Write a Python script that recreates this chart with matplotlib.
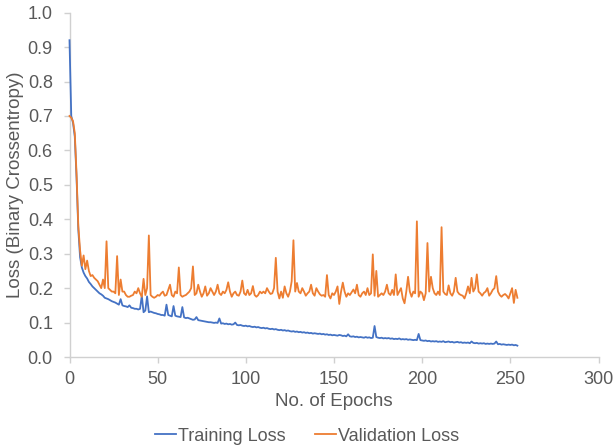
import matplotlib
matplotlib.use("Agg")
import matplotlib.pyplot as plt
import numpy as np

# Per-epoch loss values (epochs 0..254)
training_loss = [
    0.92, 0.70, 0.68, 0.64, 0.52, 0.37, 0.29, 0.26, 0.245, 0.235,
    0.228, 0.218, 0.212, 0.205, 0.200, 0.195, 0.190, 0.185, 0.182, 0.178,
    0.172, 0.170, 0.168, 0.165, 0.162, 0.160, 0.158, 0.155, 0.152, 0.168,
    0.150, 0.148, 0.147, 0.145, 0.150, 0.143, 0.142, 0.140, 0.140, 0.138,
    0.140, 0.178, 0.130, 0.135, 0.176, 0.130, 0.132, 0.130, 0.128, 0.127,
    0.125, 0.124, 0.122, 0.122, 0.120, 0.152, 0.122, 0.120, 0.118, 0.148,
    0.120, 0.118, 0.117, 0.116, 0.145, 0.115, 0.113, 0.114, 0.112, 0.110,
    0.108, 0.109, 0.116, 0.107, 0.106, 0.105, 0.104, 0.103, 0.102, 0.101,
    0.101, 0.100, 0.099, 0.100, 0.099, 0.112, 0.097, 0.098, 0.096, 0.097,
    0.095, 0.096, 0.094, 0.095, 0.100, 0.093, 0.092, 0.093, 0.091, 0.090,
    0.091, 0.089, 0.090, 0.088, 0.087, 0.088, 0.086, 0.087, 0.085, 0.084,
    0.085, 0.083, 0.084, 0.082, 0.081, 0.082, 0.080, 0.081, 0.079, 0.078,
    0.079, 0.077, 0.078, 0.076, 0.077, 0.075, 0.074, 0.075, 0.073, 0.074,
    0.072, 0.073, 0.071, 0.072, 0.070, 0.071, 0.069, 0.070, 0.068, 0.069,
    0.068, 0.067, 0.068, 0.066, 0.067, 0.065, 0.066, 0.064, 0.065, 0.063,
    0.064, 0.063, 0.062, 0.064, 0.063, 0.061, 0.062, 0.060, 0.066, 0.060,
    0.059, 0.060, 0.058, 0.059, 0.057, 0.058, 0.057, 0.056, 0.058, 0.056,
    0.057, 0.055, 0.056, 0.090, 0.058, 0.056, 0.055, 0.056, 0.054, 0.055,
    0.054, 0.055, 0.053, 0.054, 0.052, 0.053, 0.052, 0.054, 0.051, 0.052,
    0.051, 0.052, 0.050, 0.051, 0.050, 0.049, 0.050, 0.049, 0.067, 0.049,
    0.048, 0.047, 0.048, 0.046, 0.047, 0.045, 0.046, 0.045, 0.046, 0.044,
    0.045, 0.044, 0.046, 0.043, 0.044, 0.045, 0.043, 0.044, 0.042, 0.043,
    0.044, 0.042, 0.043, 0.041, 0.042, 0.041, 0.042, 0.040, 0.045, 0.041,
    0.040, 0.041, 0.039, 0.040, 0.039, 0.040, 0.038, 0.039, 0.038, 0.039,
    0.038, 0.039, 0.045, 0.037, 0.038, 0.036, 0.037, 0.036, 0.035, 0.036,
    0.035, 0.036, 0.034, 0.035, 0.033,
]

validation_loss = [
    0.700, 0.695, 0.685, 0.650, 0.530, 0.380, 0.310, 0.265, 0.295, 0.255,
    0.280, 0.250, 0.235, 0.238, 0.230, 0.225, 0.220, 0.210, 0.200, 0.225,
    0.200, 0.336, 0.200, 0.195, 0.190, 0.190, 0.185, 0.293, 0.180, 0.225,
    0.190, 0.190, 0.180, 0.175, 0.175, 0.178, 0.180, 0.190, 0.185, 0.200,
    0.185, 0.175, 0.227, 0.180, 0.200, 0.353, 0.180, 0.175, 0.172, 0.175,
    0.180, 0.178, 0.185, 0.190, 0.178, 0.180, 0.195, 0.210, 0.180, 0.175,
    0.190, 0.185, 0.260, 0.180, 0.175, 0.178, 0.180, 0.185, 0.190, 0.200,
    0.263, 0.180, 0.185, 0.210, 0.190, 0.175, 0.185, 0.205, 0.178, 0.185,
    0.200, 0.190, 0.180, 0.190, 0.210, 0.185, 0.180, 0.190, 0.185, 0.195,
    0.217, 0.190, 0.175, 0.185, 0.190, 0.180, 0.178, 0.190, 0.222, 0.185,
    0.180, 0.195, 0.180, 0.185, 0.206, 0.180, 0.175, 0.180, 0.190, 0.185,
    0.190, 0.185, 0.200, 0.190, 0.183, 0.185, 0.200, 0.288, 0.190, 0.170,
    0.190, 0.172, 0.205, 0.185, 0.175, 0.190, 0.220, 0.339, 0.190, 0.215,
    0.190, 0.185, 0.200, 0.190, 0.178, 0.185, 0.190, 0.210, 0.185, 0.178,
    0.200, 0.190, 0.182, 0.178, 0.180, 0.175, 0.238, 0.180, 0.170, 0.185,
    0.180, 0.190, 0.205, 0.154, 0.190, 0.216, 0.190, 0.175, 0.185, 0.180,
    0.188, 0.196, 0.185, 0.210, 0.180, 0.175, 0.185, 0.190, 0.180, 0.200,
    0.180, 0.185, 0.298, 0.178, 0.250, 0.175, 0.180, 0.185, 0.180, 0.190,
    0.210, 0.185, 0.180, 0.195, 0.180, 0.240, 0.180, 0.190, 0.200, 0.170,
    0.156, 0.190, 0.233, 0.190, 0.175, 0.190, 0.185, 0.394, 0.175, 0.190,
    0.185, 0.165, 0.185, 0.331, 0.190, 0.233, 0.200, 0.185, 0.180, 0.190,
    0.180, 0.377, 0.190, 0.183, 0.180, 0.208, 0.185, 0.178, 0.190, 0.230,
    0.190, 0.183, 0.180, 0.178, 0.170, 0.185, 0.205, 0.185, 0.230, 0.190,
    0.200, 0.240, 0.190, 0.185, 0.178, 0.186, 0.190, 0.200, 0.178, 0.185,
    0.195, 0.200, 0.235, 0.190, 0.180, 0.175, 0.180, 0.183, 0.178, 0.170,
    0.185, 0.200, 0.157, 0.195, 0.172,
]

epochs = np.arange(len(training_loss))

x_ticks = [0, 50, 100, 150, 200, 250, 300]
y_ticks = [0.0, 0.1, 0.2, 0.3, 0.4, 0.5, 0.6, 0.7, 0.8, 0.9, 1.0]

BLUE = "#4472C4"
ORANGE = "#ED7D31"
AXIS_GRAY = "#D0D0D0"
TEXT_GRAY = "#595959"

plt.rcParams["font.family"] = ["Liberation Sans", "DejaVu Sans"]

fig = plt.figure(figsize=(6.13, 4.48), dpi=100)
ax = fig.add_axes([69.5 / 613, 1 - 357 / 448, (598.5 - 69.5) / 613, (357 - 12.7) / 448])

# Lines drawn above the axis spines so the first epochs stay visible
ax.plot(epochs, training_loss, color=BLUE, lw=1.3, label="Training Loss",
        solid_joinstyle="round", zorder=3, clip_on=False)
ax.plot(epochs, validation_loss, color=ORANGE, lw=1.3, label="Validation Loss",
        solid_joinstyle="round", zorder=3, clip_on=False)

ax.set_xlim(0, 300)
ax.set_ylim(0, 1.0)
ax.set_xticks(x_ticks)
ax.set_xticklabels([str(v) for v in x_ticks])
ax.set_yticks(y_ticks)
ax.set_yticklabels([f"{v:.1f}" for v in y_ticks])

for side in ("top", "right"):
    ax.spines[side].set_visible(False)
for side in ("left", "bottom"):
    ax.spines[side].set_color(AXIS_GRAY)
    ax.spines[side].set_linewidth(1.0)

ax.tick_params(axis="both", colors=AXIS_GRAY, labelcolor=TEXT_GRAY,
               labelsize=13, length=4, width=1.0, direction="out")
ax.tick_params(axis="y", pad=8)
ax.tick_params(axis="x", pad=6)

ax.set_xlabel("No. of Epochs", fontsize=13.5, color=TEXT_GRAY, labelpad=4)
ax.set_ylabel("Loss (Binary Crossentropy)", fontsize=13.5, color=TEXT_GRAY, labelpad=3)

handles, labels = ax.get_legend_handles_labels()
leg = fig.legend(handles, labels, loc="center", bbox_to_anchor=(307 / 613, 1 - 436 / 448),
                 ncol=2, frameon=False, fontsize=13, handlelength=1.2,
                 handletextpad=0.1, columnspacing=1.6)
for t in leg.get_texts():
    t.set_color(TEXT_GRAY)

fig.savefig("out.png", dpi=100)
